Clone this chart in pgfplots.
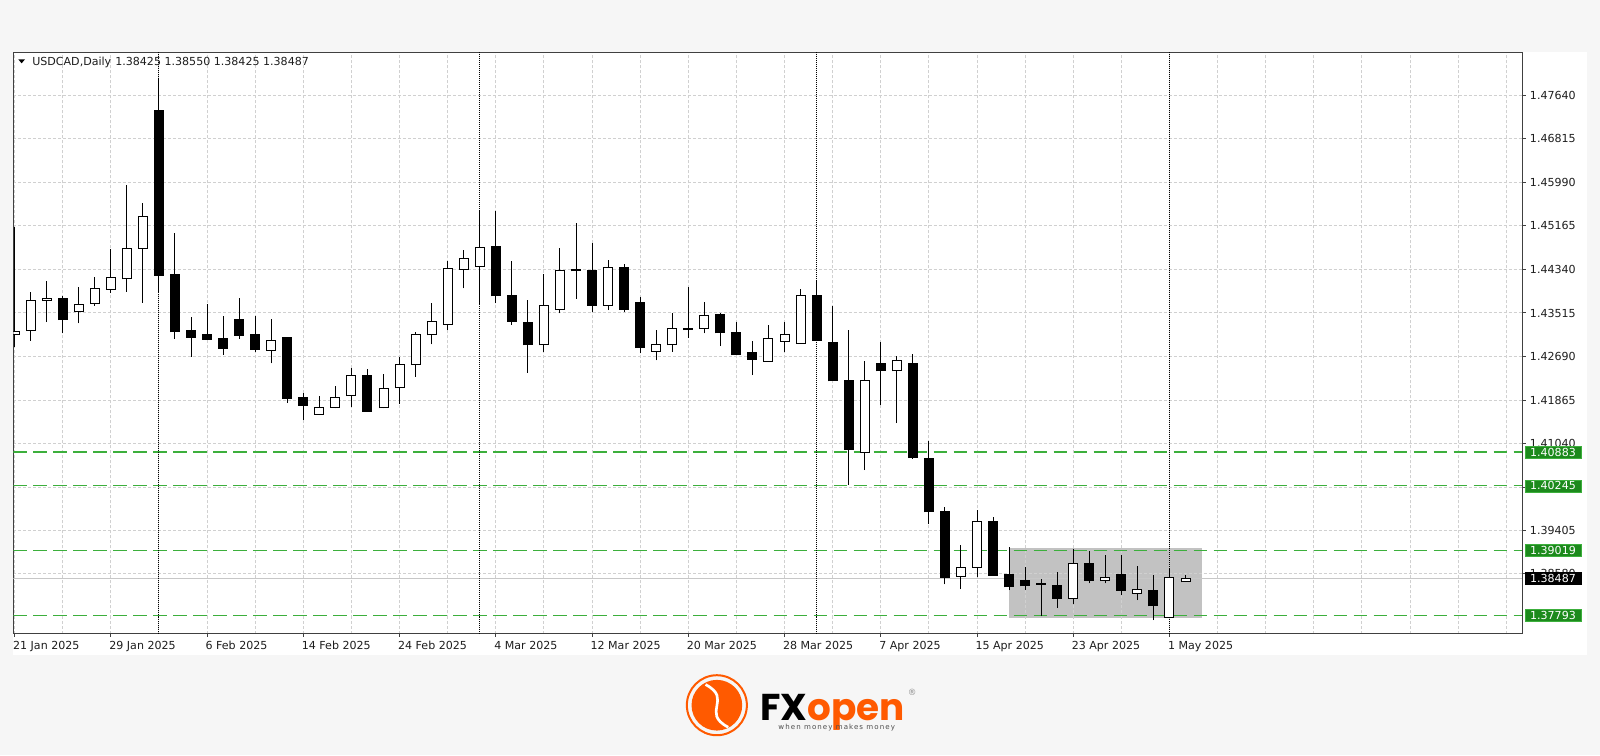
\documentclass[border=0pt]{standalone}
\usepackage{fontspec}
\setmainfont{DejaVu Sans}
\newfontfamily\logofont{Poppins}
\usepackage{pgfplots}
\pgfplotsset{compat=1.18}
\usepackage{pgfplotstable}

\definecolor{pagebg}{RGB}{246,246,246}
\definecolor{gridc}{RGB}{208,208,208}
\definecolor{lvl}{RGB}{60,175,60}
\definecolor{lvlbox}{RGB}{28,138,28}
\definecolor{zone}{RGB}{194,194,194}
\definecolor{fxorange}{RGB}{255,90,0}
\definecolor{txt}{RGB}{30,30,30}

% daily candles, x = trading day index from 21 Jan 2025
\pgfplotstableread{
x o h l c
0 1.4311 1.4515 1.4288 1.4316
1 1.4318 1.4392 1.4299 1.4376
2 1.4375 1.4412 1.4334 1.4379
3 1.4378 1.4384 1.4313 1.4339
4 1.4355 1.4401 1.4332 1.4368
5 1.4370 1.4420 1.4365 1.4397
6 1.4396 1.4472 1.4390 1.4418
7 1.4416 1.4594 1.4392 1.4474
8 1.4474 1.4559 1.4371 1.4535
9 1.4734 1.4796 1.4390 1.4423
10 1.4424 1.4502 1.4303 1.4316
11 1.4318 1.4343 1.4269 1.4306
12 1.4310 1.4368 1.4300 1.4302
13 1.4303 1.4346 1.4272 1.4285
14 1.4340 1.4380 1.4303 1.4309
15 1.4310 1.4346 1.4278 1.4283
16 1.4281 1.4341 1.4256 1.4300
17 1.4305 1.4305 1.4182 1.4190
18 1.4191 1.4201 1.4149 1.4177
19 1.4160 1.4194 1.4158 1.4173
20 1.4173 1.4213 1.4171 1.4192
21 1.4195 1.4247 1.4174 1.4233
22 1.4234 1.4245 1.4166 1.4166
23 1.4172 1.4236 1.4171 1.4209
24 1.4210 1.4269 1.4180 1.4254
25 1.4254 1.4316 1.4231 1.4310
26 1.4310 1.4370 1.4292 1.4335
27 1.4330 1.4450 1.4319 1.4436
28 1.4434 1.4471 1.4398 1.4455
29 1.4440 1.4544 1.4368 1.4476
30 1.4478 1.4544 1.4370 1.4384
31 1.4385 1.4450 1.4329 1.4336
32 1.4334 1.4377 1.4238 1.4291
33 1.4291 1.4425 1.4278 1.4365
34 1.4358 1.4474 1.4351 1.4432
35 1.4433 1.4521 1.4378 1.4431
36 1.4431 1.4484 1.4353 1.4366
37 1.4366 1.4452 1.4357 1.4438
38 1.4437 1.4445 1.4354 1.4359
39 1.4372 1.4382 1.4275 1.4286
40 1.4279 1.4320 1.4262 1.4291
41 1.4291 1.4351 1.4278 1.4323
42 1.4323 1.4401 1.4305 1.4320
43 1.4322 1.4373 1.4313 1.4346
44 1.4348 1.4352 1.4289 1.4314
45 1.4315 1.4335 1.4272 1.4272
46 1.4276 1.4299 1.4234 1.4264
47 1.4260 1.4329 1.4259 1.4303
48 1.4298 1.4334 1.4277 1.4310
49 1.4294 1.4396 1.4294 1.4384
50 1.4384 1.4414 1.4300 1.4300
51 1.4296 1.4365 1.4223 1.4223
52 1.4224 1.4319 1.4026 1.4094
53 1.4088 1.4260 1.4054 1.4224
54 1.4256 1.4297 1.4177 1.4242
55 1.4242 1.4270 1.4143 1.4262
56 1.4256 1.4273 1.4076 1.4078
57 1.4077 1.4110 1.3952 1.3975
58 1.3975 1.3985 1.3838 1.3851
59 1.3853 1.3912 1.3829 1.3870
60 1.3870 1.3978 1.3851 1.3957
61 1.3957 1.3966 1.3855 1.3855
62 1.3857 1.3908 1.3827 1.3833
63 1.3846 1.3871 1.3827 1.3835
64 1.3840 1.3849 1.3778 1.3838
65 1.3836 1.3862 1.3794 1.3812
66 1.3812 1.3905 1.3800 1.3877
67 1.3877 1.3901 1.3840 1.3846
68 1.3845 1.3893 1.3840 1.3851
69 1.3857 1.3893 1.3817 1.3827
70 1.3821 1.3872 1.3808 1.3829
71 1.3827 1.3856 1.3770 1.3797
72 1.3776 1.3867 1.3776 1.3851
73 1.38425 1.38550 1.38425 1.38487
}\usdcad

\begin{document}
\begin{tikzpicture}
\begin{axis}[
    at={(9.975pt,91.275pt)}, anchor=south west,
    scale only axis, width=1131.5pt, height=435.75pt,
    xmin=-0.08, xmax=94, ymin=1.37449, ymax=1.48448,
    set layers, clip mode=individual,
    axis line style={black!75, line width=0.75pt},
    grid=both,
    grid style={gridc, line width=0.75pt, dash pattern=on 2.25pt off 1.5pt},
    minor grid style={gridc, line width=0.75pt, dash pattern=on 2.25pt off 1.5pt},
    xtick={0,6,...,72},
    minor xtick={3,9,15,21,27,33,39,45,51,57,63,69,75,78,81,84,87,90,93},
    xticklabels={21 Jan 2025,29 Jan 2025,6 Feb 2025,14 Feb 2025,24 Feb 2025,4 Mar 2025,12 Mar 2025,20 Mar 2025,28 Mar 2025,7 Apr 2025,15 Apr 2025,23 Apr 2025,1 May 2025},
    ytick={1.4764,1.46815,1.4599,1.45165,1.4434,1.43515,1.4269,1.41865,1.4104,1.4022,1.39405,1.3858},
    yticklabels={1.47640,1.46815,1.45990,1.45165,1.44340,1.43515,1.42690,1.41865,1.41040,1.40220,1.39405,1.38580},
    xtick pos=left, ytick pos=right, yticklabel pos=right,
    tick align=outside, major tick length=2.5pt, minor tick length=0pt,
    tick style={black!75, line width=0.75pt},
    ticklabel style={font=\fontsize{8.3}{10}\selectfont, text=txt, inner sep=0pt},
    xticklabel style={anchor=north west, xshift=-1.3pt, yshift=-3pt},
    yticklabel style={anchor=west, xshift=3pt},
]
% page and chart panel
\begin{pgfonlayer}{axis background}
\fill[pagebg] (axis cs:-0.91,1.35145) rectangle (axis cs:98.84,1.49439);
\fill[white] (axis cs:-0.08,1.37039) rectangle (axis cs:98.03,1.48448);
\end{pgfonlayer}
% consolidation zone
\addplot[on layer=axis background, fill=zone, draw=none] coordinates {(62,1.39060) (74,1.39060) (74,1.37733) (62,1.37733)};
% current price line
\addplot[black!22, line width=0.75pt] coordinates {(-0.08,1.38487) (94,1.38487)};
% levels
\addplot[lvl, line width=1pt, dash pattern=on 10pt off 5pt] coordinates {(-0.08,1.40883) (94,1.40883)};
\addplot[lvl, line width=1pt, dash pattern=on 10pt off 5pt] coordinates {(-0.08,1.40245) (94,1.40245)};
\addplot[lvl, line width=1pt, dash pattern=on 10pt off 5pt] coordinates {(-0.08,1.39019) (94,1.39019)};
\addplot[lvl, line width=1pt, dash pattern=on 10pt off 5pt] coordinates {(-0.08,1.37793) (94,1.37793)};
% month separators
\addplot[black, line width=0.75pt, dash pattern=on 0.75pt off 0.75pt] coordinates {(9,1.37449) (9,1.48448)};
\addplot[black, line width=0.75pt, dash pattern=on 0.75pt off 0.75pt] coordinates {(29,1.37449) (29,1.48448)};
\addplot[black, line width=0.75pt, dash pattern=on 0.75pt off 0.75pt] coordinates {(50,1.37449) (50,1.48448)};
\addplot[black, line width=0.75pt, dash pattern=on 0.75pt off 0.75pt] coordinates {(72,1.37449) (72,1.48448)};
% wicks
\addplot[draw=none, mark=none, error bars/.cd, y dir=plus, y explicit, error mark=none,
    error bar style={draw=black, line width=0.75pt}]
    table[x=x, y=l, y error expr=\thisrow{h}-\thisrow{l}] {\usdcad};
% bodies (outline)
\addplot[draw=none, mark=none, error bars/.cd, y dir=plus, y explicit, error mark=none,
    error bar style={draw=black, line width=7.5pt}]
    table[x=x, y expr={0.5*(\thisrow{o}+\thisrow{c})-0.5*max(abs(\thisrow{c}-\thisrow{o})+0.00019,0.00035)},
          y error expr={max(abs(\thisrow{c}-\thisrow{o})+0.00019,0.00035)}] {\usdcad};
% hollow up candles
\addplot[draw=none, mark=none, error bars/.cd, y dir=plus, y explicit, error mark=none,
    error bar style={draw=white, line width=6pt}]
    table[x=x, y expr={ifthenelse(\thisrow{c}>\thisrow{o},\thisrow{o}+0.000095,1.3)},
          y error expr={max(\thisrow{c}-\thisrow{o}-0.00019,0)}] {\usdcad};
% price tags
\tikzset{tag/.style={fill=lvlbox, draw=lvl, line width=0.4pt, text=white, inner sep=0pt, minimum width=42pt, minimum height=9pt,
    anchor=west, xshift=1.75pt, font=\fontsize{8.3}{10}\selectfont}}
\node[tag] at (axis cs:94,1.40883) {1.40883};
\node[tag] at (axis cs:94,1.40245) {1.40245};
\node[tag] at (axis cs:94,1.39019) {1.39019};
\node[tag] at (axis cs:94,1.37793) {1.37793};
\node[tag, fill=black, draw=black] at (axis cs:94,1.38487) {1.38487};
\end{axis}
% header
\fill[black] (13.7pt,521.8pt) -- (18.75pt,521.8pt) -- (16.2pt,518.8pt) -- cycle;
\node[anchor=base west, inner sep=0pt, text=txt, font=\fontsize{8.3}{10}\selectfont] at (24pt,517pt) {USDCAD,Daily};
\node[anchor=base west, inner sep=0pt, text=txt, font=\fontsize{8.3}{10}\selectfont] at (86.25pt,517pt) {1.38425 1.38550 1.38425 1.38487};
% logo
\draw[fxorange, line width=1.5pt] (537.5pt,37.5pt) circle (22.5pt);
\fill[fxorange] (537.5pt,37.5pt) circle (19pt);
\draw[white, line width=2pt] (529pt,53pt) .. controls (550pt,42pt) and (525pt,32pt) .. (546pt,21pt);
\node[anchor=base west, inner sep=0pt] at (570pt,26.25pt) {\logofont\bfseries\fontsize{28}{28}\selectfont\textcolor{black}{FX}\textcolor{fxorange}{open}};
\node[anchor=base west, inner sep=0pt, text=black!70] at (583.5pt,19.5pt) {\fontsize{5.3}{6}\selectfont\addfontfeature{LetterSpace=15}when money makes money};
\node[inner sep=0pt, text=black!45, font=\fontsize{6.5}{7}\selectfont] at (684pt,47pt) {®};
\end{tikzpicture}
\end{document}
